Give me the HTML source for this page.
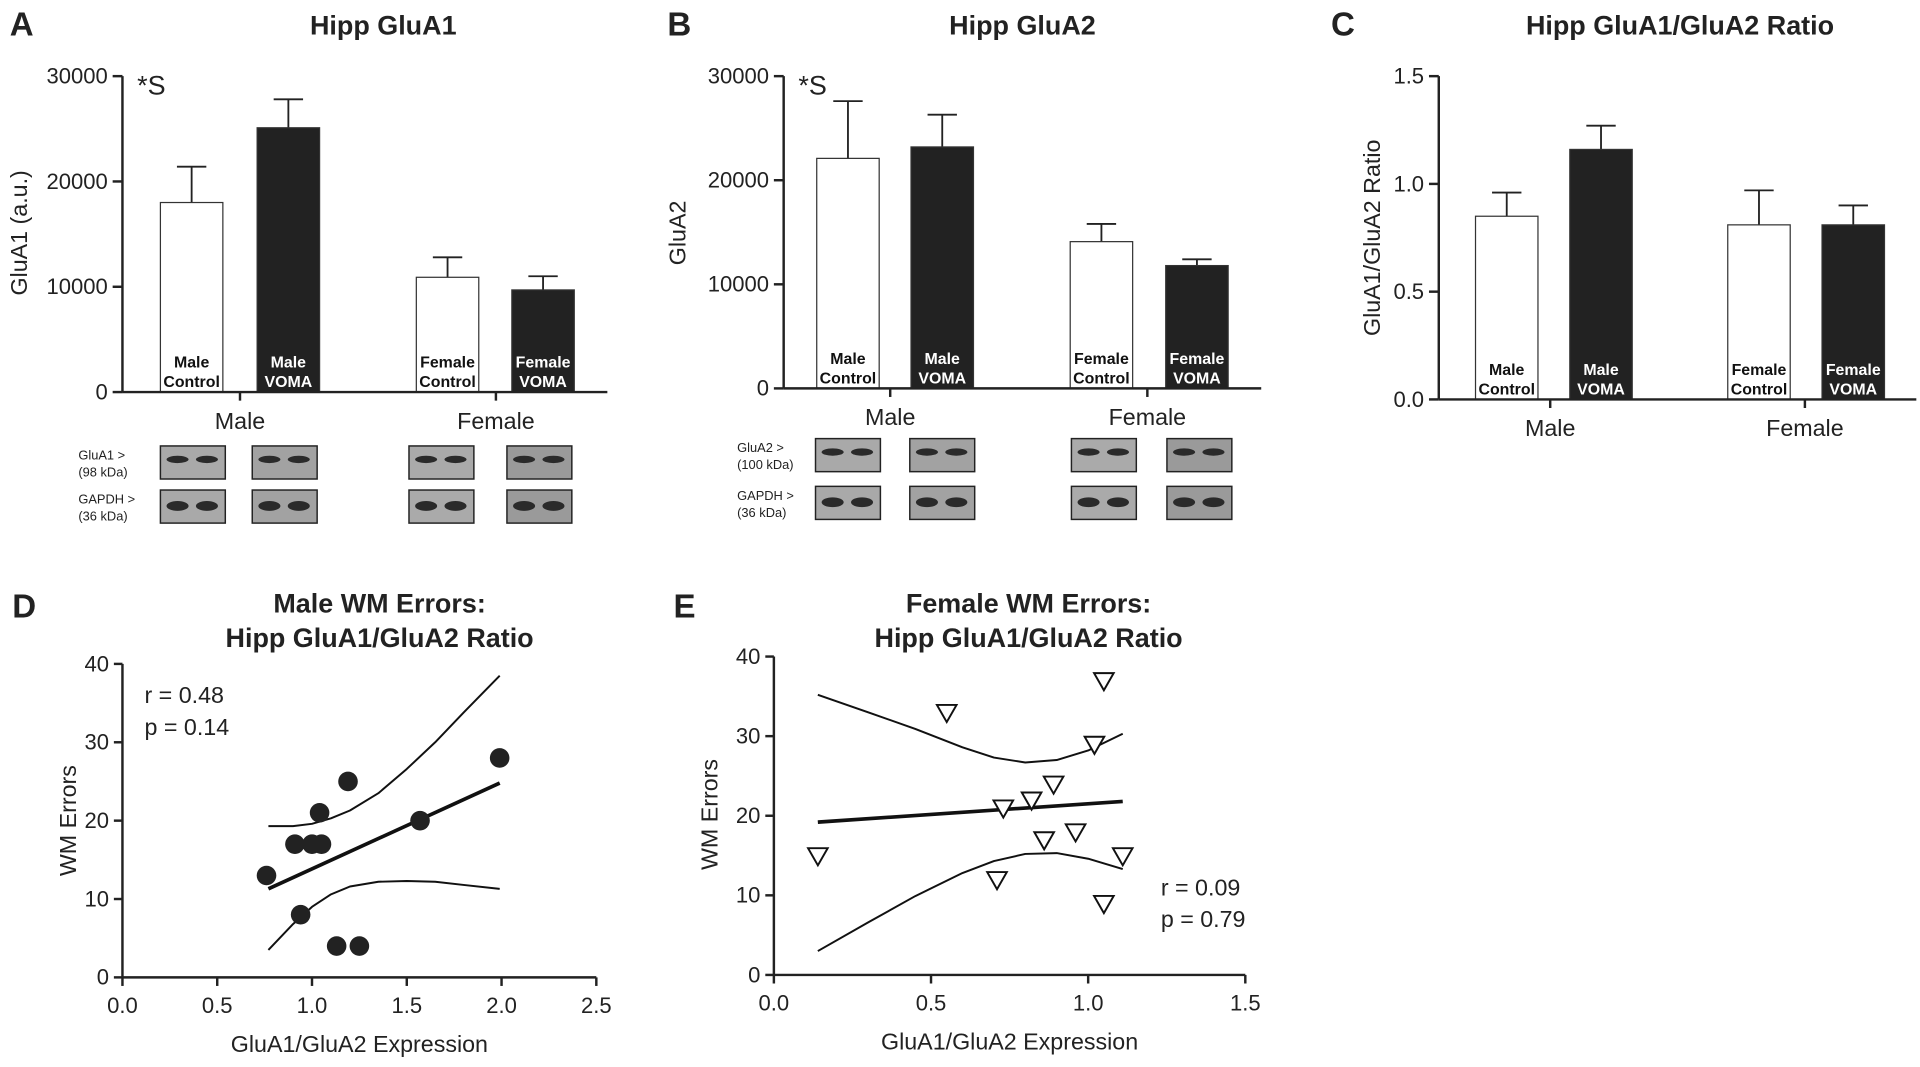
<!DOCTYPE html>
<html><head><meta charset="utf-8"><style>
html,body{margin:0;padding:0;background:#fff;}
svg{display:block;font-family:"Liberation Sans",Arial,sans-serif;}
</style></head><body>
<svg id="fig" width="1920" height="1067" viewBox="0 0 1568 871" xmlns="http://www.w3.org/2000/svg"></svg>
<script>
// ---- data ----
const barCategories = ["Male Control","Male VOMA","Female Control","Female VOMA"];
const gluA1Values = [18000, 25100, 10900, 9700];
const gluA1Errors = [21400, 27800, 12800, 11000];
const gluA2Values = [22100, 23200, 14100, 11800];
const gluA2Errors = [27600, 26300, 15800, 12400];
const ratioValues = [0.85, 1.16, 0.81, 0.81];
const ratioErrors = [0.96, 1.27, 0.97, 0.90];
const countTicks = [0, 10000, 20000, 30000];
const ratioTicks = [0, 0.5, 1.0, 1.5];
const maleX = [0.76,0.91,1.0,1.05,1.04,1.19,0.94,1.13,1.25,1.57,1.99];
const maleY = [13,17,17,17,21,25,8,4,4,20,28];
const maleFitX = [0.77, 1.99];
const maleFitY = [11.3, 24.8];
const maleCIX = [0.77,0.9,1.0,1.1,1.2,1.35,1.5,1.65,1.8,1.99];
const maleUpper = [19.3,19.3,19.6,20.3,21.3,23.5,26.6,30,33.8,38.5];
const maleLower = [3.5,6.8,9.0,10.6,11.6,12.2,12.3,12.2,11.8,11.3];
const femX = [0.14,0.55,0.71,0.73,0.82,0.86,0.89,0.96,1.02,1.05,1.05,1.11];
const femY = [15,33,12,21,22,17,24,18,29,37,9,15];
const femFitX = [0.14, 1.11];
const femFitY = [19.2, 21.8];
const femCIX = [0.14,0.3,0.45,0.6,0.7,0.8,0.9,1.0,1.11];
const femUpper = [35.2,33.0,30.9,28.6,27.3,26.7,27.0,28.2,30.3];
const femLower = [3.0,6.6,9.9,12.8,14.3,15.2,15.3,14.6,13.3];
const scatterXTicksD = [0,0.5,1.0,1.5,2.0,2.5];
const scatterXTicksE = [0,0.5,1.0,1.5];
const scatterYTicks = [0,10,20,30,40];

const NS="http://www.w3.org/2000/svg";
const svg=document.getElementById('fig');
function el(tag,attrs,parent){const e=document.createElementNS(NS,tag);for(const k in attrs)e.setAttribute(k,attrs[k]);(parent||svg).appendChild(e);return e;}
function txt(s,x,y,size,opts,parent){opts=opts||{};const t=el('text',{x:x,y:y,'font-size':size,'text-anchor':opts.anchor||'start','font-weight':opts.bold?'bold':'normal',fill:opts.fill||'#222'},parent);if(opts.rot)t.setAttribute('transform','rotate(-90 '+x+' '+y+')');t.textContent=s;return t;}

function barPanel(cfg){
  const g=el('g',{});
  
  
  const y=v=>cfg.y0-(v-cfg.min)/(cfg.max-cfg.min)*(cfg.y0-cfg.yTop);
  const L=txt(cfg.letter,cfg.letterX,29,27,{bold:true},g);
  
  const T=txt(cfg.title,cfg.titleX,28,22,{anchor:'middle',bold:true},g);
  
  cfg.values.forEach((v,i)=>{
    const x=cfg.barX[i],w=51,dark=i%2===1;
    const e=el('line',{x1:x+w/2,x2:x+w/2,y1:y(v),y2:y(cfg.errors[i]),stroke:'#222','stroke-width':1.5},g);
    
    el('line',{x1:x+w/2-12,x2:x+w/2+12,y1:y(cfg.errors[i]),y2:y(cfg.errors[i]),stroke:'#222','stroke-width':1.5},g);
    const r=el('rect',{x:x,y:y(v),width:w,height:cfg.y0-y(v),fill:dark?'#222':'#fff',stroke:'#333','stroke-width':1},g);
    
    
    const parts=barCategories[i].split(' ');
    txt(parts[0],x+w/2,cfg.y0-20,13,{anchor:'middle',bold:true,fill:dark?'#fff':'#111'},g);
    txt(parts[1],x+w/2,cfg.y0-4,13,{anchor:'middle',bold:true,fill:dark?'#fff':'#111'},g);
  });
  const ya=el('line',{x1:cfg.ax,x2:cfg.ax,y1:cfg.yTop,y2:cfg.y0,stroke:'#222','stroke-width':2},g);
  
  const xa=el('line',{x1:cfg.ax,x2:cfg.axEnd,y1:cfg.y0,y2:cfg.y0,stroke:'#222','stroke-width':2},g);
  
  cfg.ticks.forEach(t=>{
    el('line',{x1:cfg.ax-8,x2:cfg.ax,y1:y(t),y2:y(t),stroke:'#222','stroke-width':2},g);
    const tl=txt(cfg.fmt(t),cfg.ax-12,y(t)+6,18,{anchor:'end'},g);
    
  });
  const yl=txt(cfg.ylabel,cfg.ylabelX,cfg.ylabelY,19,{anchor:'middle',rot:true},g);
  
  [[cfg.groupX[0],'Male'],[cfg.groupX[1],'Female']].forEach(([gx,s])=>{
    el('line',{x1:gx,x2:gx,y1:cfg.y0,y2:cfg.y0+7,stroke:'#222','stroke-width':2},g);
    const gl=txt(s,gx,cfg.y0+30,19,{anchor:'middle'},g);
    
  });
  if(cfg.sig){const s=txt('*S',cfg.ax+12,cfg.yTop+15,22,{},g);}
  if(cfg.blot){
    const b=cfg.blot;
    [[b.r1,b.lab1,b.kda1],[b.r2,'GAPDH >','(36 kDa)']].forEach(([ry,lab,kda],ri)=>{
      txt(lab,b.labX,ry+11,10.5,{},g);txt(kda,b.labX,ry+25,10.5,{},g);
      b.xs.forEach((bx,bi)=>{
        const bg=['#a9a9a9','#a2a2a2','#aaaaaa','#9a9a9a'][bi];
        const r=el('rect',{x:bx,y:ry,width:53,height:27,fill:bg,stroke:'#222','stroke-width':1.2},g);
        
        [bx+14,bx+38].forEach(cx=>el('ellipse',{cx:cx,cy:ry+(ri===0?11:13),rx:9,ry:ri===0?3:4,fill:'#2a2a2a'},g));
      });
    });
  }
}
barPanel({name:'panel-a-gluA1',letter:'A',letterX:8,title:'Hipp GluA1',titleX:313,values:gluA1Values,errors:gluA1Errors,min:0,max:30000,y0:320,yTop:62,ax:100,axEnd:496,barX:[131,210,340,418],ticks:countTicks,fmt:t=>String(t),ylabel:'GluA1 (a.u.)',ylabelX:22,ylabelY:190,groupX:[196,405],sig:true,blot:{r1:364,r2:400,xs:[131,206,334,414],labX:64,lab1:'GluA1 >',kda1:'(98 kDa)'}});
barPanel({name:'panel-b-gluA2',letter:'B',letterX:545,title:'Hipp GluA2',titleX:835,values:gluA2Values,errors:gluA2Errors,min:0,max:30000,y0:317,yTop:62,ax:640,axEnd:1030,barX:[667,744,874,952],ticks:countTicks,fmt:t=>String(t),ylabel:'GluA2',ylabelX:560,ylabelY:190,groupX:[727,937],sig:true,blot:{r1:358,r2:397,xs:[666,743,875,953],labX:602,lab1:'GluA2 >',kda1:'(100 kDa)'}});
barPanel({name:'panel-c-ratio',letter:'C',letterX:1087,title:'Hipp GluA1/GluA2 Ratio',titleX:1372,values:ratioValues,errors:ratioErrors,min:0,max:1.5,y0:326,yTop:62,ax:1175,axEnd:1565,barX:[1205,1282,1411,1488],ticks:ratioTicks,fmt:t=>t.toFixed(1),ylabel:'GluA1/GluA2 Ratio',ylabelX:1127,ylabelY:194,groupX:[1266,1474],sig:false});

function scatter(cfg){
  const g=el('g',{});
  
  
  const X=v=>cfg.x0+(v-cfg.xmin)/(cfg.xmax-cfg.xmin)*(cfg.x1-cfg.x0);
  const Y=v=>cfg.y0-(v/40)*(cfg.y0-cfg.yTop);
  txt(cfg.letter,cfg.letterX,504,27,{bold:true},g);
  const t1=txt(cfg.title1,cfg.titleX,500,22,{anchor:'middle',bold:true},g);
  
  txt('Hipp GluA1/GluA2 Ratio',cfg.titleX,528,22,{anchor:'middle',bold:true},g);
  const ya=el('line',{x1:cfg.x0,x2:cfg.x0,y1:cfg.yTop,y2:cfg.y0,stroke:'#222','stroke-width':2},g);
  
  const xa=el('line',{x1:cfg.x0,x2:cfg.x1,y1:cfg.y0,y2:cfg.y0,stroke:'#222','stroke-width':2},g);
  
  scatterYTicks.forEach(t=>{el('line',{x1:cfg.x0-7,x2:cfg.x0,y1:Y(t),y2:Y(t),stroke:'#222','stroke-width':2},g);
    const l=txt(String(t),cfg.x0-11,Y(t)+6,18,{anchor:'end'},g);});
  cfg.xticks.forEach(t=>{el('line',{x1:X(t),x2:X(t),y1:cfg.y0,y2:cfg.y0+7,stroke:'#222','stroke-width':2},g);
    const l=txt(t.toFixed(1),X(t),cfg.y0+29,18,{anchor:'middle'},g);});
  const xl=txt('GluA1/GluA2 Expression',(cfg.x0+cfg.x1)/2,cfg.y0+61,19,{anchor:'middle'},g);
  
  const yl=txt('WM Errors',cfg.ylabelX,cfg.ylabelY,19,{anchor:'middle',rot:true},g);
  
  const curve=(xs,ys,nm,w)=>{let d='';xs.forEach((v,i)=>{d+=(i?'L':'M')+X(v).toFixed(1)+','+Y(ys[i]).toFixed(1);});
    const p=el('path',{d:d,fill:'none',stroke:'#111','stroke-width':w,'stroke-linejoin':'round'},g);};
  curve(cfg.ciX,cfg.upper,'ci-upper',1.6);curve(cfg.ciX,cfg.lower,'ci-lower',1.6);curve(cfg.fitX,cfg.fitY,'regression-line',3);
  cfg.xs.forEach((v,i)=>{
    let m;
    if(cfg.tri){const cx=X(v),cy=Y(cfg.ys[i]);
      m=el('polygon',{points:(cx-8)+','+(cy-6)+' '+(cx+8)+','+(cy-6)+' '+cx+','+(cy+8),fill:'#fff',stroke:'#111','stroke-width':1.6},g);}
    else m=el('ellipse',{cx:X(v),cy:Y(cfg.ys[i]),rx:8,ry:8,fill:'#222'},g);
    
  });
  const r=txt(cfg.rt,cfg.statX,cfg.statY,19,{},g);
  const p=txt(cfg.pt,cfg.statX,cfg.statY+26,19,{},g);
}
scatter({name:'panel-d-male-scatter',letter:'D',letterX:10,title1:'Male WM Errors:',titleX:310,x0:100,x1:487,xmin:0,xmax:2.5,y0:798,yTop:542,xticks:scatterXTicksD,xs:maleX,ys:maleY,fitX:maleFitX,fitY:maleFitY,ciX:maleCIX,upper:maleUpper,lower:maleLower,rt:'r = 0.48',pt:'p = 0.14',statX:118,statY:574,ylabelX:62,ylabelY:670});
scatter({name:'panel-e-female-scatter',letter:'E',letterX:550,title1:'Female WM Errors:',titleX:840,x0:632,x1:1017,xmin:0,xmax:1.5,y0:796,yTop:536,xticks:scatterXTicksE,xs:femX,ys:femY,fitX:femFitX,fitY:femFitY,ciX:femCIX,upper:femUpper,lower:femLower,tri:true,rt:'r = 0.09',pt:'p = 0.79',statX:948,statY:731,ylabelX:586,ylabelY:665});
</script>
</body></html>
